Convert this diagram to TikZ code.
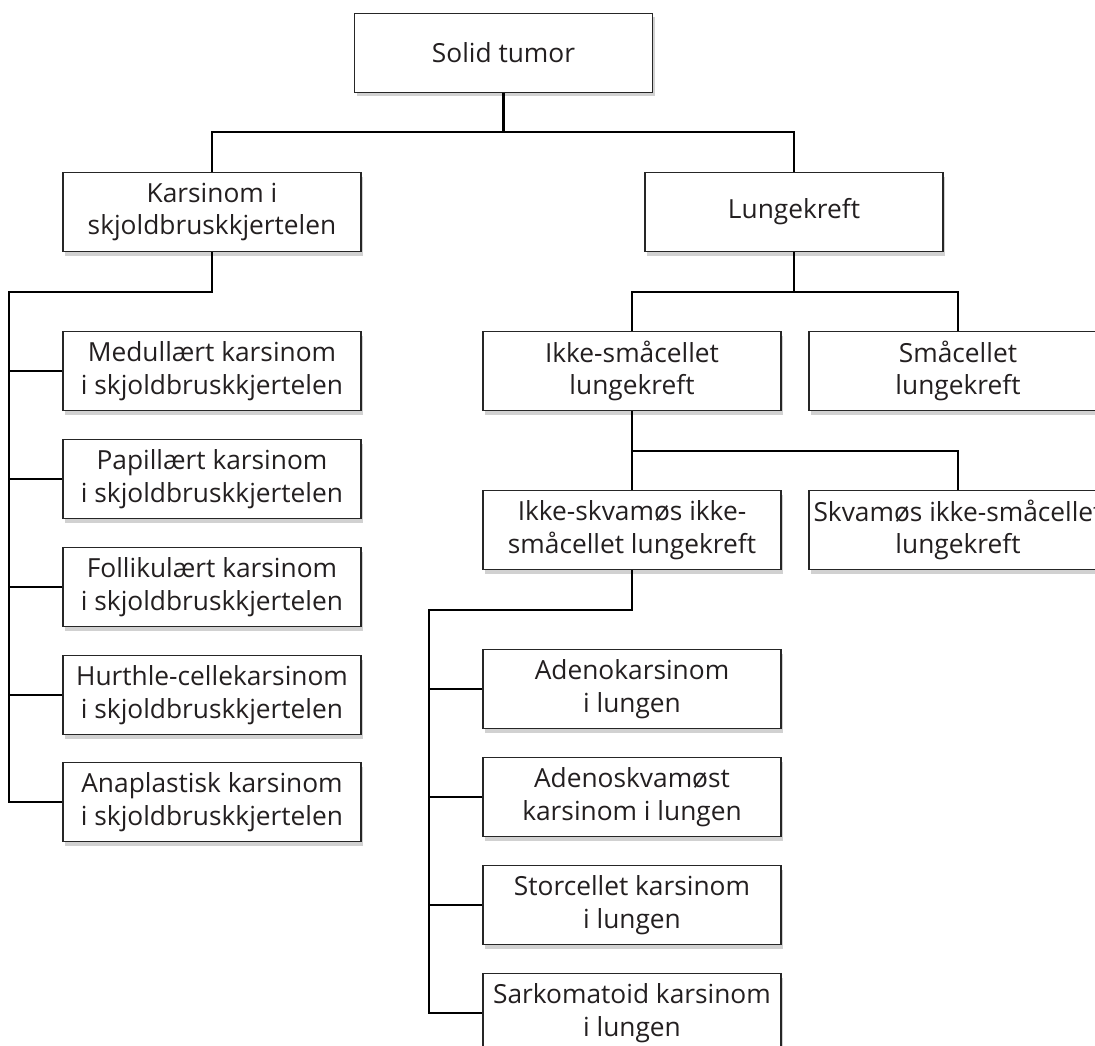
\documentclass[tikz,border=0pt]{standalone}
\usepackage{fontspec}
\setmainfont{Open Sans}
\usetikzlibrary{shadows}
\definecolor{txtc}{HTML}{231F20}
\begin{document}
\begin{tikzpicture}[x=1pt,y=-1pt,
  box/.style={draw=black!85, line width=1.5pt, fill=white, minimum width=298pt, minimum height=79pt,
    inner sep=0pt, align=center, text=txtc, font=\fontsize{26.3}{32.5}\selectfont,
    drop shadow={shadow xshift=2pt, shadow yshift=-4pt, opacity=0.18, fill=black}},
  txt/.style={align=center, text=txtc, font=\fontsize{26.3}{32.5}\selectfont, inner sep=0pt},
  conn/.style={draw=black, line width=2.4pt}]
\clip (0,0) rectangle (1095,1046);
\fill[white] (0,0) rectangle (1095,1046);
% nodes
\node[box] (solid) at (503.5,53) {Solid tumor};
\node[box] (kars) at (212,212) {Karsinom i\\skjoldbruskkjertelen};
\node[box] (lunge) at (794,212) {Lungekreft};
\node[box] (med) at (212,371) {Medullært karsinom\\i skjoldbruskkjertelen};
\node[box] (pap) at (212,479) {Papillært karsinom\\i skjoldbruskkjertelen};
\node[box] (fol) at (212,587) {Follikulært karsinom\\i skjoldbruskkjertelen};
\node[box] (hur) at (212,695) {Hurthle-cellekarsinom\\i skjoldbruskkjertelen};
\node[box] (ana) at (212,802) {Anaplastisk karsinom\\i skjoldbruskkjertelen};
\node[box] (iks) at (632,371) {Ikke-småcellet\\lungekreft};
\node[box] (sma) at (958,371) {Småcellet\\lungekreft};
\node[box] (iksk) at (632,530) {Ikke-skvamøs ikke-\\småcellet lungekreft};
\node[box] (skv) at (958,530) {};
\node[txt] (skvt) at (skv.center) {Skvamøs ikke-småcellet\\lungekreft};
\node[box] (ade) at (632,689) {Adenokarsinom\\i lungen};
\node[box] (ads) at (632,797) {Adenoskvamøst\\karsinom i lungen};
\node[box] (sto) at (632,905) {Storcellet karsinom\\i lungen};
\node[box] (sar) at (632,1013) {Sarkomatoid karsinom\\i lungen};
% junction coordinates
\coordinate (j1) at (503.5,132);
\coordinate (j2) at (212,292);
\coordinate (lbus) at (9,292);
\coordinate (j3) at (794,292);
\coordinate (j4) at (632,451);
\coordinate (j5) at (632,610);
\coordinate (rbus) at (429,610);
% connectors
\draw[conn] (solid.south) -- (j1);
\draw[conn] (kars.north) |- (j1) -| (lunge.north);
\draw[conn] (kars.south) -- (j2) -- (lbus) |- (ana.west);
\foreach \n in {med,pap,fol,hur} \draw[conn] (\n.west) -- (\n.west -| lbus);
\draw[conn] (lunge.south) -- (j3);
\draw[conn] (iks.north) |- (j3) -| (sma.north);
\draw[conn] (iks.south) -- (j4);
\draw[conn] (iksk.north) -- (j4) -| (skv.north);
\draw[conn] (iksk.south) -- (j5) -- (rbus) |- (sar.west);
\foreach \n in {ade,ads,sto} \draw[conn] (\n.west) -- (\n.west -| rbus);
\end{tikzpicture}
\end{document}
